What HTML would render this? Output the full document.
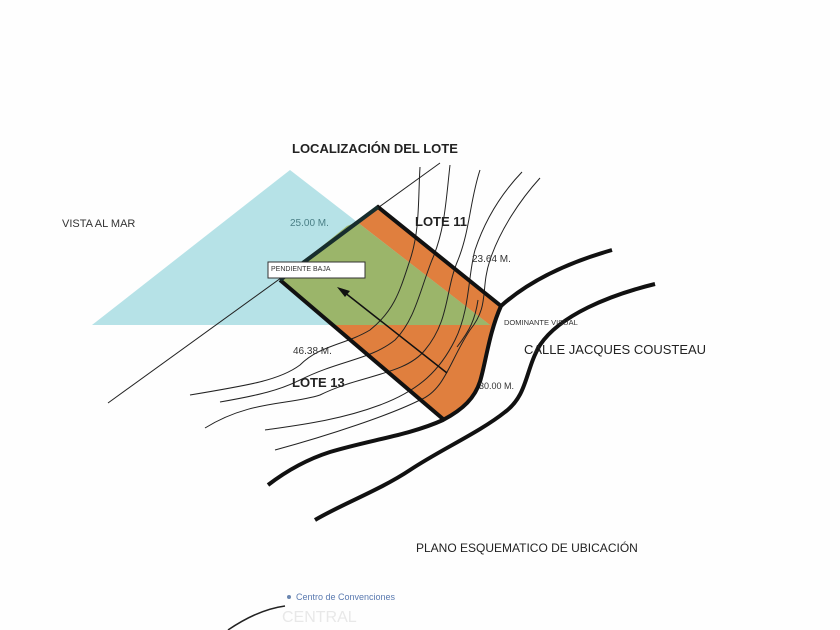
<!DOCTYPE html>
<html><head><meta charset="utf-8"><style>
html,body{margin:0;padding:0;background:#fff;}
svg{display:block}
text{font-family:"Liberation Sans",sans-serif;}
</style></head><body>
<svg width="840" height="630" viewBox="0 0 840 630" xmlns="http://www.w3.org/2000/svg">
<rect width="840" height="630" fill="#fefefe"/>
<!-- orange lot -->
<path d="M378,207 L501,306 C490,330 486,360 481,378 C476,398 462,410 443,419 L280,280 Z" fill="#e07f3e"/>
<!-- blue triangle -->
<polygon points="290,170 92,325 490,325" fill="#a9dde3" opacity="0.85"/>
<!-- green overlap -->
<path d="M357,222 L490,325 L334,325 L280,280 L347,226 Z" fill="#9bb56a"/>
<!-- long thin line -->
<line x1="108" y1="403" x2="440" y2="163" stroke="#222" stroke-width="1"/>
<!-- contour lines -->
<g fill="none" stroke="#222" stroke-width="1">
<path d="M420,167 C418,200 420,230 410,260 C400,290 395,310 370,330 C345,345 320,345 300,365 C280,380 250,385 190,395"/>
<path d="M450,165 C446,200 445,230 432,260 C420,290 415,320 395,340 C370,360 340,360 300,380 C280,390 260,395 220,402"/>
<path d="M480,170 C470,200 470,230 458,260 C445,290 450,320 425,350 C405,375 360,375 320,395 C290,405 250,400 205,428"/>
<path d="M522,172 C500,195 485,220 475,250 C468,275 470,310 455,340 C440,370 420,390 380,405 C340,420 300,425 265,430"/>
<path d="M540,178 C520,200 500,230 490,260 C480,290 490,305 470,330 C450,360 445,390 420,400 C390,415 330,435 275,450"/>
<path d="M457,347 C470,330 475,320 478,300"/>
</g>
<!-- lot outline -->
<polyline points="501,306 378,207 280,280" fill="none" stroke="#111" stroke-width="4"/>
<polyline points="280,280 443,419" fill="none" stroke="#111" stroke-width="4"/>
<!-- left edge overlap teal tint -->
<line x1="378" y1="207" x2="280" y2="280" stroke="#1e4a4a" stroke-width="4" opacity="0.5"/>
<!-- roads -->
<path d="M612,250 C570,262 530,280 501,306 C490,330 486,360 481,378 C476,398 462,410 443,420 C410,435 370,440 330,452 C305,460 285,472 268,485" fill="none" stroke="#111" stroke-width="4"/>
<path d="M655,284 C610,295 560,315 540,345 C525,370 528,395 505,412 C480,432 440,450 410,470 C380,490 340,505 315,520" fill="none" stroke="#111" stroke-width="4"/>
<!-- arrow -->
<line x1="447" y1="373" x2="344" y2="292" stroke="#111" stroke-width="1.5"/>
<polygon points="337,287 350,291 345,297" fill="#111"/>
<!-- label box -->
<rect x="268" y="262" width="97" height="16" fill="#fff" stroke="#333" stroke-width="1"/>
<text x="271" y="271" font-size="7" fill="#333">PENDIENTE BAJA</text>
<!-- texts -->
<text x="292" y="153" font-size="13" font-weight="bold" fill="#222">LOCALIZACIÓN DEL LOTE</text>
<text x="62" y="227" font-size="11" fill="#333">VISTA AL MAR</text>
<text x="290" y="226" font-size="10" fill="#4a7f86">25.00 M.</text>
<text x="415" y="226" font-size="13" font-weight="bold" fill="#222">LOTE 11</text>
<text x="472" y="262" font-size="10" fill="#333">23.64 M.</text>
<text x="504" y="325" font-size="7.5" fill="#333">DOMINANTE VISUAL</text>
<text x="524" y="354" font-size="13" fill="#222">CALLE JACQUES COUSTEAU</text>
<text x="293" y="354" font-size="10" fill="#333">46.38 M.</text>
<text x="292" y="387" font-size="13" font-weight="bold" fill="#222">LOTE 13</text>
<text x="479" y="389" font-size="9" fill="#333">30.00 M.</text>
<text x="416" y="552" font-size="12" fill="#222">PLANO ESQUEMATICO DE UBICACIÓN</text>
<circle cx="289" cy="597" r="2" fill="#6a86b0"/>
<text x="296" y="600" font-size="9" fill="#5a7ab0">Centro de Convenciones</text>
<path d="M228,630 C250,615 270,608 285,606" fill="none" stroke="#222" stroke-width="1.5"/>
<text x="282" y="622" font-size="16" fill="#e8e8e8">CENTRAL</text>
</svg>
</body></html>
